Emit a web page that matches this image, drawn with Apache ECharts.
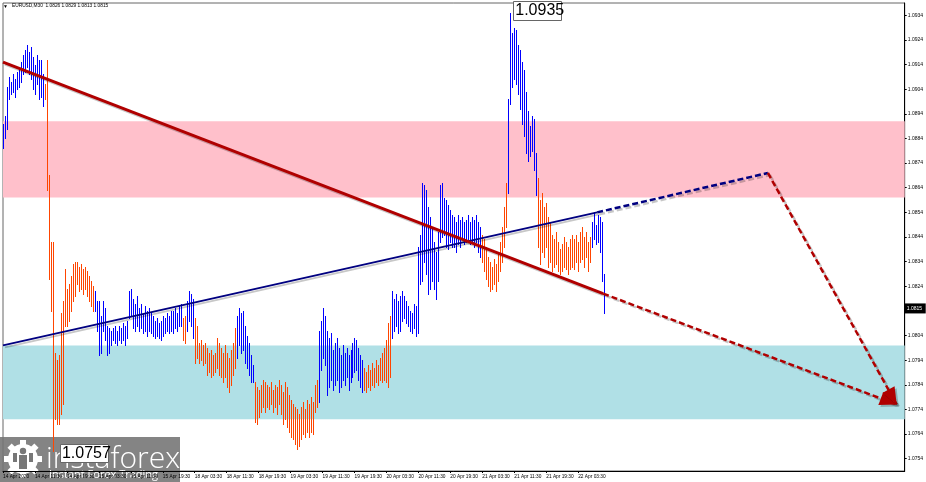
<!DOCTYPE html>
<html><head><meta charset="utf-8">
<script src="https://cdn.jsdelivr.net/npm/echarts@6/dist/echarts.min.js"></script>
<style>html,body{margin:0;padding:0;background:#fff}#c{width:926px;height:482px}</style>
</head><body><div id="c"></div>
<script>
// ---- data (EURUSD M30) ----
const headerValues = [1.0826, 1.0829, 1.0813, 1.0815]; // O H L C of last bar
const xLabels = ['14 Apr 2020','14 Apr 11:30','14 Apr 19:30','15 Apr 03:30','15 Apr 11:30','15 Apr 19:30','18 Apr 03:30','18 Apr 11:30','18 Apr 19:30','19 Apr 03:30','19 Apr 11:30','19 Apr 19:30','20 Apr 03:30','20 Apr 11:30','20 Apr 19:30','21 Apr 03:30','21 Apr 11:30','21 Apr 19:30','22 Apr 03:30'];
const barsPerLabel = 16;
const yTicks = [1.0754,1.0764,1.0774,1.0784,1.0794,1.0804,1.0814,1.0824,1.0834,1.0844,1.0854,1.0864,1.0874,1.0884,1.0894,1.0904,1.0914,1.0924,1.0934];

const highs = [
1.0890,1.0893,1.0905,1.0909,1.0907,1.0910,1.0908,1.0911,1.0912,1.0915,
1.0918,1.0920,1.0922,1.0919,1.0921,1.0917,1.0914,1.0918,1.0916,1.0916,
1.0910,1.0906,1.0916,1.0869,1.0842,1.0842,1.0797,1.0794,1.0796,1.0813,
1.0818,1.0831,1.0823,1.0825,1.0828,1.0833,1.0834,1.0834,1.0832,1.0833,
1.0831,1.0832,1.0830,1.0828,1.0826,1.0824,1.0822,1.0818,1.0818,1.0812,
1.0818,1.0815,1.0808,1.0807,1.0806,1.0807,1.0808,1.0806,1.0808,1.0807,
1.0809,1.0808,1.0810,1.0822,1.0823,1.0819,1.0817,1.0820,1.0815,1.0817,
1.0813,1.0816,1.0814,1.0815,1.0813,1.0812,1.0810,1.0811,1.0809,1.0810,
1.0812,1.0811,1.0813,1.0812,1.0814,1.0814,1.0815,1.0813,1.0816,1.0817,
1.0811,1.0812,1.0818,1.0822,1.0821,1.0819,1.0811,1.0808,1.0801,1.0802,
1.0800,1.0801,1.0799,1.0797,1.0798,1.0796,1.0797,1.0803,1.0801,1.0799,
1.0797,1.0800,1.0797,1.0795,1.0798,1.0801,1.0807,1.0812,1.0815,1.0813,
1.0814,1.0808,1.0804,1.0801,1.0796,1.0792,1.0785,1.0783,1.0782,1.0784,
1.0786,1.0785,1.0784,1.0783,1.0785,1.0782,1.0784,1.0783,1.0786,1.0784,
1.0781,1.0785,1.0783,1.0780,1.0778,1.0776,1.0775,1.0774,1.0772,1.0775,
1.0777,1.0774,1.0778,1.0776,1.0779,1.0777,1.0784,1.0786,1.0806,1.0810,
1.0815,1.0812,1.0806,1.0803,1.0805,1.0798,1.0801,1.0803,1.0799,1.0796,
1.0800,1.0797,1.0799,1.0796,1.0798,1.0801,1.0803,1.0802,1.0799,1.0796,
1.0794,1.0791,1.0789,1.0792,1.0790,1.0793,1.0791,1.0794,1.0792,1.0795,
1.0797,1.0799,1.0802,1.0809,1.0812,1.0822,1.0819,1.0821,1.0818,1.0820,
1.0822,1.0820,1.0818,1.0816,1.0814,1.0813,1.0817,1.0816,1.0840,1.0845,
1.0866,1.0865,1.0863,1.0856,1.0852,1.0848,1.0842,1.0838,1.0846,1.0865,
1.0866,1.0860,1.0859,1.0857,1.0855,1.0853,1.0852,1.0850,1.0853,1.0851,
1.0852,1.0850,1.0851,1.0853,1.0850,1.0852,1.0851,1.0853,1.0850,1.0848,
1.0845,1.0843,1.0840,1.0836,1.0834,1.0832,1.0835,1.0833,1.0838,1.0842,
1.0848,1.0856,1.0866,1.0900,1.0935,1.0927,1.0929,1.0928,1.0922,1.0920,
1.0915,1.0912,1.0903,1.0895,1.0889,1.0893,1.0892,1.0878,1.0868,1.0859,
1.0862,1.0856,1.0858,1.0852,1.0850,1.0845,1.0843,1.0846,1.0842,1.0839,
1.0841,1.0844,1.0842,1.0840,1.0843,1.0845,1.0843,1.0845,1.0842,1.0846,
1.0848,1.0844,1.0846,1.0842,1.0844,1.0850,1.0854,1.0849,1.0853,1.0852,
1.0850,1.0829
];
const lows = [
1.0880,1.0884,1.0888,1.0900,1.0902,1.0903,1.0901,1.0904,1.0905,1.0907,
1.0910,1.0911,1.0913,1.0910,1.0908,1.0904,1.0902,1.0906,1.0900,1.0901,
1.0897,1.0900,1.0863,1.0827,1.0814,1.0757,1.0770,1.0768,1.0768,1.0772,
1.0776,1.0808,1.0808,1.0810,1.0814,1.0818,1.0820,1.0825,1.0822,1.0823,
1.0821,1.0823,1.0820,1.0818,1.0816,1.0814,1.0814,1.0806,1.0796,1.0797,
1.0806,1.0802,1.0796,1.0797,1.0800,1.0802,1.0801,1.0800,1.0802,1.0801,
1.0802,1.0800,1.0803,1.0811,1.0812,1.0807,1.0806,1.0808,1.0806,1.0807,
1.0805,1.0806,1.0804,1.0806,1.0805,1.0804,1.0803,1.0804,1.0803,1.0802,
1.0804,1.0805,1.0806,1.0805,1.0806,1.0805,1.0807,1.0806,1.0808,1.0808,
1.0802,1.0801,1.0806,1.0810,1.0808,1.0803,1.0793,1.0795,1.0793,1.0794,
1.0792,1.0793,1.0788,1.0789,1.0787,1.0788,1.0789,1.0791,1.0788,1.0787,
1.0785,1.0787,1.0783,1.0781,1.0784,1.0788,1.0791,1.0795,1.0800,1.0797,
1.0798,1.0793,1.0791,1.0788,1.0785,1.0785,1.0769,1.0768,1.0771,1.0773,
1.0775,1.0773,1.0775,1.0774,1.0776,1.0773,1.0775,1.0772,1.0776,1.0772,
1.0768,1.0770,1.0767,1.0765,1.0763,1.0762,1.0760,1.0758,1.0759,1.0762,
1.0764,1.0763,1.0765,1.0763,1.0765,1.0764,1.0773,1.0775,1.0777,1.0790,
1.0795,1.0792,1.0780,1.0783,1.0786,1.0782,1.0784,1.0786,1.0781,1.0783,
1.0786,1.0784,1.0787,1.0782,1.0785,1.0787,1.0789,1.0790,1.0786,1.0783,
1.0781,1.0782,1.0781,1.0783,1.0782,1.0784,1.0783,1.0785,1.0784,1.0786,
1.0785,1.0786,1.0785,1.0783,1.0787,1.0803,1.0806,1.0808,1.0805,1.0806,
1.0810,1.0811,1.0809,1.0808,1.0806,1.0805,1.0807,1.0804,1.0805,1.0825,
1.0826,1.0834,1.0829,1.0821,1.0823,1.0826,1.0823,1.0819,1.0826,1.0842,
1.0844,1.0845,1.0840,1.0839,1.0842,1.0840,1.0840,1.0838,1.0841,1.0840,
1.0843,1.0841,1.0842,1.0843,1.0841,1.0842,1.0840,1.0842,1.0838,1.0836,
1.0834,1.0830,1.0827,1.0824,1.0822,1.0823,1.0825,1.0822,1.0826,1.0830,
1.0834,1.0840,1.0848,1.0862,1.0898,1.0905,1.0908,1.0906,1.0902,1.0896,
1.0890,1.0885,1.0878,1.0875,1.0877,1.0879,1.0871,1.0861,1.0840,1.0833,
1.0838,1.0836,1.0840,1.0832,1.0834,1.0830,1.0832,1.0833,1.0830,1.0829,
1.0830,1.0832,1.0831,1.0829,1.0831,1.0832,1.0831,1.0834,1.0830,1.0834,
1.0835,1.0832,1.0836,1.0830,1.0834,1.0840,1.0843,1.0841,1.0842,1.0838,
1.0826,1.0813
];
// wave segmentation (start bar index, direction)
const waveStart = [0, 21, 46, 90, 92, 96, 117, 126, 158, 181, 195, 240, 253, 268, 295];
const waveDir   = ['up','down','up','down','up','down','up','down','up','down','up','down','up','down','up'];

// zones (price ranges)
const zoneSell = [1.0860, 1.0891];
const zoneBuy  = [1.0770, 1.0800];

// trend lines and forecast paths: [barIndex, price]
const trendDown     = [[0, 1.0915], [300.5, 1.0821]];
const trendUp       = [[0, 1.0800], [297.5, 1.0854]];
const forecastUp    = [[297.5, 1.0854], [383, 1.0870]];
const forecastDownA = [[300.5, 1.0821], [447.5, 1.0776]];
const forecastDownB = [[383, 1.0870], [447.5, 1.0776]];

// ---- build ----
const BLUE = '#0000ff', ORANGE = '#ff4500', RED = '#b00000', NAVY = '#000080';
function dirAt(i){ let d = waveDir[0]; for (let k=0;k<waveStart.length;k++){ if(i>=waveStart[k]) d = waveDir[k]; } return d; }
const upData = [], downData = [];
highs.forEach((h,i)=>{ (dirAt(i)==='up'?upData:downData).push([i, h, lows[i]]); });
const labelIdx = xLabels.map((_,k)=>k*barsPerLabel);
let pkI = 0, lwI = 0;
highs.forEach((h,i)=>{ if(h>highs[pkI]) pkI=i; });
lows.forEach((l,i)=>{ if(l<lows[lwI]) lwI=i; });
const X_MAX = 451.5;

// one custom series per wave colour: all bars drawn as one compound path
function barSeries(data, color){
  return {type:'custom', zlevel:1, z:3, silent:true, animation:false, data:[0], 
    renderItem:function(params, api){
      if (params.dataIndex !== 0) return null;
      const kids = data.map(d=>{
        const t = api.coord([d[0], d[1]]);
        const b = api.coord([d[0], d[2]]);
        const x = Math.round(t[0]);
        const y1 = Math.round(t[1]), y2 = Math.round(b[1]);
        return {type:'rect', shape:{x:x, y:y1, width:1, height:Math.max(1, y2-y1+1)}, style:{fill:color, opacity:1}};
      });
      return {type:'group', children:kids};
    }};
}

function segSeries(pts, color, width, dashed, arrow, z){
  return {type:'custom', zlevel:2, z:z, silent:true, clip:false, animation:false,
    data:[[pts[0][0], pts[0][1], pts[1][0], pts[1][1]]],
    encode:{x:[0,2], y:[1,3]},
    renderItem:function(params, api){
      const a = api.coord([api.value(0), api.value(1)]);
      const b = api.coord([api.value(2), api.value(3)]);
      const dash = dashed ? [6,3] : null;
      const kids = [
        {type:'line', shape:{x1:a[0]+2, y1:a[1]+2, x2:b[0]+2, y2:b[1]+2}, style:{stroke:'rgba(0,0,0,0.22)', lineWidth:width, lineDash:dash}},
        {type:'line', shape:{x1:a[0], y1:a[1], x2:b[0], y2:b[1]}, style:{stroke:color, lineWidth:width, lineDash:dash}}
      ];
      if (arrow){
        const dx=b[0]-a[0], dy=b[1]-a[1], L=Math.hypot(dx,dy), ux=dx/L, uy=dy/L, len=17, hw=7;
        const bx=b[0]-ux*len, by=b[1]-uy*len;
        const poly=[[b[0],b[1]],[bx-uy*hw, by+ux*hw],[bx+uy*hw, by-ux*hw]];
        kids.push({type:'polygon', shape:{points:poly.map(p=>[p[0]+2,p[1]+2])}, style:{fill:'rgba(0,0,0,0.22)'}});
        kids.push({type:'polygon', shape:{points:poly}, style:{fill:color}});
      }
      return {type:'group', children:kids};
    }};
}

// box label next to a bar extreme (offsets in pixels)
function boxLabel(idx, price, dx, dy, w, h){
  return {type:'custom', zlevel:2, z:8, silent:true, clip:false, animation:false,
    data:[[idx, price]], encode:{x:0, y:1},
    renderItem:function(params, api){
      const p = api.coord([api.value(0), api.value(1)]);
      return {type:'group', children:[
        {type:'rect', shape:{x:Math.round(p[0]+dx)+0.5, y:Math.round(p[1]+dy)+0.5, width:w, height:h}, style:{fill:'#fff', stroke:'#666', lineWidth:1}},
        {type:'text', x:p[0]+dx+2, y:p[1]+dy+h/2+0.5, style:{text:api.value(1).toFixed(4), fontSize:16, fill:'#000', fontFamily:'Liberation Sans', verticalAlign:'middle'}}
      ]};
    }};
}

const chart = echarts.init(document.getElementById('c'), null, {renderer:'canvas'});
const option = {
  animation:false,
  backgroundColor:'#fff',
  grid:{left:2, right:21, top:3, bottom:11, show:true, borderColor:'#666', borderWidth:1, backgroundColor:'transparent'},
  xAxis:{type:'value', min:0, max:X_MAX,
    axisLine:{show:true, onZero:false, lineStyle:{color:'#000', width:1}},
    splitLine:{show:false},
    axisTick:{show:true, customValues:labelIdx, length:2, lineStyle:{color:'#000'}},
    axisLabel:{show:true, customValues:labelIdx, formatter:v=>xLabels[Math.round(v/barsPerLabel)]||'', align:'left',
      fontSize:4.8, color:'#000', margin:3, fontFamily:'Liberation Sans', hideOverlap:false}},
  yAxis:{type:'value', position:'right', min:1.0749, max:1.0939,
    axisLine:{show:true, onZero:false, lineStyle:{color:'#000', width:1}},
    splitLine:{show:false},
    axisTick:{show:true, customValues:yTicks, length:2, lineStyle:{color:'#000'}},
    axisLabel:{show:true, customValues:yTicks, formatter:v=>v.toFixed(4), fontSize:5, color:'#000', margin:3, fontFamily:'Liberation Sans'}},
  graphic:[
    {type:'text', zlevel:3, left:3, top:4, style:{text:'\u25BC', fontSize:5, fill:'#000'}},
    {type:'text', zlevel:3, left:12, top:3, style:{text:'EURUSD,M30  '+headerValues.map(v=>v.toFixed(4)).join(' '), fontSize:4.8, fill:'#000', fontFamily:'Liberation Sans'}},
    {type:'group', zlevel:3, z:100, children:(function(){
      const g = [{type:'rect', shape:{x:0, y:437, width:180, height:45}, style:{fill:'rgba(115,115,115,0.88)'}}];
      for (let k=0;k<8;k++) g.push({type:'rect', x:23, y:459, rotation:k*Math.PI/4, shape:{x:-3, y:-19, width:6, height:6}, style:{fill:'#fff'}});
      g.push(
        {type:'circle', shape:{cx:23, cy:459, r:15}, style:{fill:'#fff'}},
        {type:'circle', shape:{cx:23, cy:451, r:3.2}, style:{fill:'#777'}},
        {type:'rect', shape:{x:19, y:455, width:8, height:14}, style:{fill:'#777'}},
        {type:'rect', shape:{x:13, y:453, width:4, height:9}, style:{fill:'#777'}},
        {type:'rect', shape:{x:29, y:453, width:4, height:9}, style:{fill:'#777'}},
        {type:'text', x:46, y:459, style:{text:'instaforex', fontSize:30, fill:'#fff', fontFamily:'Open Sans', fontWeight:300, verticalAlign:'middle'}},
        {type:'text', x:49, y:475, style:{text:'Instant Forex Trading', fontSize:11, fill:'#fff', fontFamily:'Open Sans', verticalAlign:'middle'}}
      );
      return g;
    })()}
  ],
  series:[
    {type:'line', data:[], z:1, silent:true,
      markArea:{silent:true, data:[
        [{yAxis:zoneSell[1], itemStyle:{color:'#ffc0cb', opacity:1}},{yAxis:zoneSell[0]}],
        [{yAxis:zoneBuy[1], itemStyle:{color:'#b0e0e6', opacity:1}},{yAxis:zoneBuy[0]}]
      ]}},
    barSeries(upData, BLUE),
    barSeries(downData, ORANGE),
    segSeries(trendUp, NAVY, 2, false, false, 5),
    segSeries(forecastUp, NAVY, 2.5, true, false, 5),
    segSeries(trendDown, RED, 3, false, false, 6),
    segSeries(forecastDownA, RED, 2.5, true, true, 6),
    segSeries(forecastDownB, RED, 2.5, true, true, 6),
    boxLabel(pkI, highs[pkI], 3, -12, 48, 19),
    boxLabel(lwI, lows[lwI], 7, -7, 48, 18),
    {type:'custom', zlevel:2, z:8, silent:true, clip:false, animation:false,
      data:[[X_MAX, headerValues[3]]], encode:{x:0, y:1},
      renderItem:function(params, api){
        const p = api.coord([api.value(0), api.value(1)]);
        return {type:'group', children:[
          {type:'rect', shape:{x:p[0], y:p[1]-5, width:21, height:10}, style:{fill:'#000'}},
          {type:'text', x:p[0]+2, y:p[1], style:{text:api.value(1).toFixed(4), fontSize:5, fill:'#fff', fontFamily:'Liberation Sans', verticalAlign:'middle'}}
        ]};
      }}
  ]
};
chart.setOption(option);
</script>
</body></html>
